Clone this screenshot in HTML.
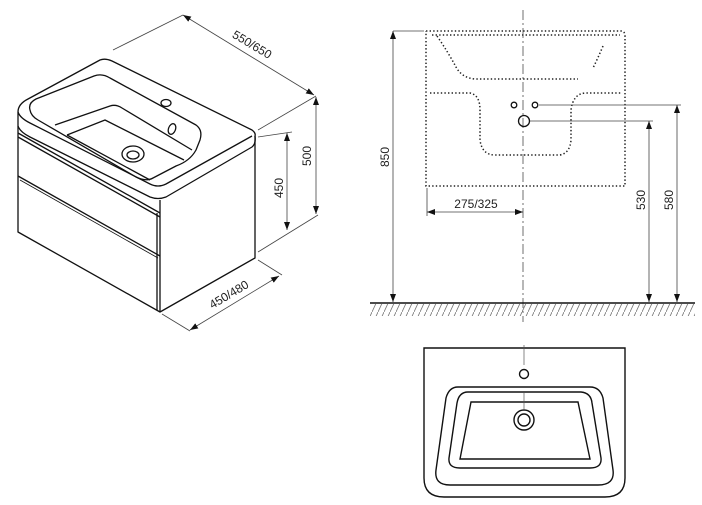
<!DOCTYPE html>
<html><head><meta charset="utf-8"><style>
html,body{margin:0;padding:0;background:#fff;}
svg{display:block;}
text{font-family:"Liberation Sans",sans-serif;font-size:12px;fill:#222;}
</style></head><body>
<svg width="702" height="505" viewBox="0 0 702 505" xmlns="http://www.w3.org/2000/svg">
<defs>
<marker id="a" markerWidth="8" markerHeight="6" refX="8" refY="3" orient="auto-start-reverse" markerUnits="userSpaceOnUse">
<path d="M0,0 L8,3 L0,6 z" fill="#111"/></marker>
<pattern id="h" width="6" height="13" patternUnits="userSpaceOnUse">
<line x1="0" y1="13" x2="6" y2="0" stroke="#777" stroke-width="0.8"/></pattern>
</defs>
<g fill="none" stroke="#111" stroke-width="1.3" stroke-linejoin="round">
<path d="M18,112 Q18,104 28,99 L100,60 Q105,58 112,61 L252,130 Q256,133 255,136 L255,145"/>
<path d="M18,112 L18,126 Q20,132 30,137 L150,197 Q158,200 166,197 L252,147 Q256,144 255,136"/>
<path d="M18,112 Q20,118 30,123 L150,184 Q158,188 166,184 L252,136"/>
<path d="M30,110 Q28,103 36,99 L94,76 Q102,73 110,78 L196,125 Q203,130 200,140 L196,150 Q190,161 176,166 L153,178 Q146,182 136,177 L38,120 Q31,116 30,110 z"/>
<path d="M55,125 L110,106 Q116,104 122,108 L192,150 M67,135 L105,120 L184,160 M67,135 L150,180"/>
<ellipse cx="133" cy="154" rx="11" ry="8"/><ellipse cx="133" cy="155" rx="6" ry="4"/>
<ellipse cx="166" cy="103" rx="5" ry="3.5"/>
<ellipse cx="172" cy="129" rx="3.5" ry="5.5" transform="rotate(20 172 129)"/>
<path d="M18,133 L160,213 M18,137 L160,217"/>
<path d="M18,126 L18,232 L160,312 L255,258 L255,145"/>
<path d="M160,200 L160,312 M157,213 L157,310"/>
<path d="M18,176 L160,256"/>
<path d="M20,180 L158,258" stroke-width="0.8"/>
</g>
<g stroke="#444" stroke-width="0.8" fill="none">
<line x1="113" y1="50" x2="183" y2="15"/>
<line x1="258" y1="130" x2="316" y2="96"/>
<line x1="183" y1="15" x2="314" y2="95" marker-start="url(#a)" marker-end="url(#a)"/>
<line x1="258" y1="137" x2="292" y2="132"/>
<line x1="258" y1="252" x2="318" y2="215"/>
<line x1="316" y1="97" x2="316" y2="214" marker-start="url(#a)" marker-end="url(#a)"/>
<line x1="287" y1="133" x2="287" y2="230" marker-start="url(#a)" marker-end="url(#a)"/>
<line x1="258" y1="260" x2="282" y2="275"/>
<line x1="162" y1="314" x2="190" y2="331"/>
<line x1="190" y1="330" x2="279" y2="276" marker-start="url(#a)" marker-end="url(#a)"/>
</g>
<text x="250" y="48" transform="rotate(31 250 48)" text-anchor="middle">550/650</text>
<text x="311" y="156" transform="rotate(-90 311 156)" text-anchor="middle">500</text>
<text x="283" y="188" transform="rotate(-90 283 188)" text-anchor="middle">450</text>
<text x="231" y="298" transform="rotate(-31 231 298)" text-anchor="middle">450/480</text>
<g fill="none" stroke="#222" stroke-width="1.5" stroke-dasharray="1.4 2.2">
<path d="M426,31 L622,31 Q625,32 625,36 L625,186 L426,186 L426,31"/>
<path d="M432,35 L620,35"/>
<path d="M437,36 Q448,52 456,67 Q462,78 475,79 L578,79"/>
<path d="M603,46 Q598,58 593,68"/>
<path d="M430,93 L470,93 Q480,95 480,110 L480,140 Q482,155 495,155 L560,155 Q570,153 571,140 L571,110 Q573,94 585,93 L622,93"/>
</g>
<g stroke="#333" stroke-width="0.7" stroke-dasharray="10 3 2 3" fill="none">
<line x1="523" y1="10" x2="523" y2="322"/>
</g>
<g fill="none" stroke="#111" stroke-width="1.3">
<circle cx="514" cy="105" r="2.8"/><circle cx="535" cy="105" r="2.8"/><circle cx="524" cy="121" r="5.5"/>
</g>
<g stroke="#444" stroke-width="0.8" fill="none">
<line x1="539" y1="105" x2="681" y2="105"/>
<line x1="530" y1="121" x2="653" y2="121"/>
<line x1="677" y1="105" x2="677" y2="302" marker-start="url(#a)" marker-end="url(#a)"/>
<line x1="649" y1="121" x2="649" y2="302" marker-start="url(#a)" marker-end="url(#a)"/>
<line x1="393" y1="31" x2="424" y2="31"/>
<line x1="393" y1="31" x2="393" y2="302" marker-start="url(#a)" marker-end="url(#a)"/>
<line x1="427" y1="188" x2="427" y2="216"/>
<line x1="427" y1="212" x2="523" y2="212" marker-start="url(#a)" marker-end="url(#a)"/>
</g>
<text x="389" y="157" transform="rotate(-90 389 157)" text-anchor="middle">850</text>
<text x="645" y="200" transform="rotate(-90 645 200)" text-anchor="middle">530</text>
<text x="673" y="200" transform="rotate(-90 673 200)" text-anchor="middle">580</text>
<text x="476" y="208" text-anchor="middle">275/325</text>
<rect x="370" y="304" width="325" height="12" fill="url(#h)"/>
<line x1="370" y1="303" x2="695" y2="303" stroke="#111" stroke-width="1.4"/>
<g fill="none" stroke="#111" stroke-width="1.4">
<path d="M424,348 L625,348 L625,478 Q625,497 605,497 L444,497 Q424,497 424,478 z"/>
<circle cx="524" cy="374" r="4.5"/>
<path d="M458,387 L590,387 Q600,387 603,398 L613,470 Q615,485 598,485 L450,485 Q434,485 436,470 L446,398 Q449,387 458,387 z"/>
<path d="M468,392 L581,392 Q591,393 592,403 L601,458 Q602,468 590,468 L460,468 Q448,468 449,458 L457,403 Q459,392 468,392 z"/>
<path d="M471,402 L578,402 L590,459 L460,459 z"/>
<circle cx="524" cy="420" r="10"/><circle cx="524" cy="420" r="6"/>
</g>
<line x1="524" y1="345" x2="524" y2="365" stroke="#555" stroke-width="0.7"/>
<line x1="524" y1="393" x2="524" y2="410" stroke="#555" stroke-width="0.7"/>
</svg>
</body></html>
